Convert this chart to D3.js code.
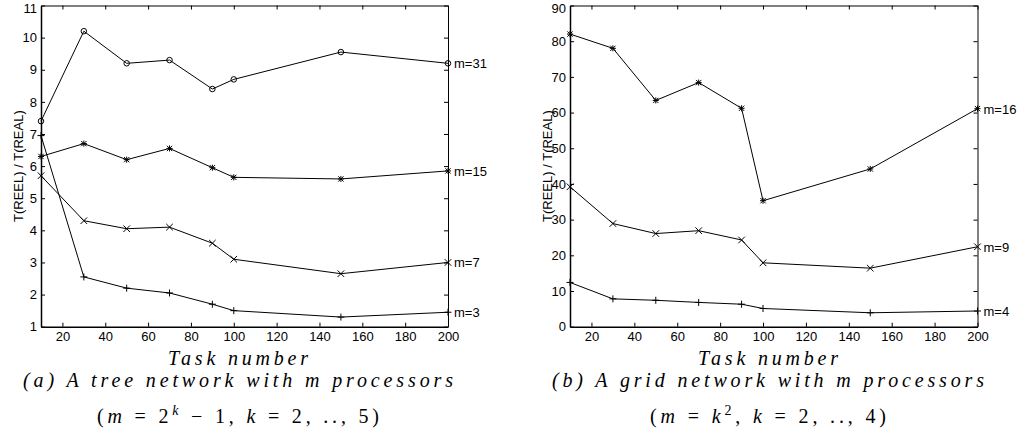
<!DOCTYPE html>
<meta charset="utf-8">
<style>
  body { margin: 0; background: #fff; }
  .tick text { font: 13px "Liberation Sans", Arial, sans-serif; fill: #000; }
  .cap { font-family: "Liberation Serif", "Times New Roman", serif; fill: #000; }
</style>
<svg width="1019" height="440"></svg>
<script src="https://cdn.jsdelivr.net/npm/d3@7"></script>
<script>
// data
var tasks = [10, 30, 50, 70, 90, 100, 150, 200];
var xTicks = [20, 40, 60, 80, 100, 120, 140, 160, 180, 200];

// (a) tree network
var treeM31 = [7.4, 10.2, 9.2, 9.3, 8.4, 8.7, 9.55, 9.2];
var treeM15 = [6.3, 6.7, 6.2, 6.55, 5.95, 5.65, 5.6, 5.85];
var treeM7  = [5.7, 4.3, 4.05, 4.1, 3.6, 3.1, 2.65, 3.0];
var treeM3  = [6.95, 2.55, 2.2, 2.05, 1.7, 1.5, 1.3, 1.45];
var treeYTicks = [1, 2, 3, 4, 5, 6, 7, 8, 9, 10, 11];

// (b) grid network
var gridM16 = [82, 78, 63.4, 68.4, 61.2, 35.3, 44.2, 61.1];
var gridM9  = [39.2, 28.9, 26.1, 26.9, 24.3, 17.9, 16.4, 22.4];
var gridM4  = [12.4, 7.8, 7.4, 6.8, 6.3, 5.1, 3.9, 4.4];
var gridYTicks = [0, 10, 20, 30, 40, 50, 60, 70, 80, 90];

var svg = d3.select("svg");

var panels = [
  { left: 41, right: 448, top: 5.5, bottom: 326.7, yDomain: [1, 11], yTicks: treeYTicks,
    series: [
      { name: "m=31", values: treeM31, mark: "circle" },
      { name: "m=15", values: treeM15, mark: "asterisk" },
      { name: "m=7",  values: treeM7,  mark: "times" },
      { name: "m=3",  values: treeM3,  mark: "plus" }
    ],
    cap1: "(a) A tree network with m processors",
    cap2: "tree"
  },
  { left: 570, right: 977.5, top: 5.5, bottom: 326.7, yDomain: [0, 90], yTicks: gridYTicks,
    series: [
      { name: "m=16", values: gridM16, mark: "asterisk" },
      { name: "m=9",  values: gridM9,  mark: "times" },
      { name: "m=4",  values: gridM4,  mark: "plus" }
    ],
    cap1: "(b) A grid network with m processors",
    cap2: "grid"
  }
];

var symPlus = d3.symbol().type(d3.symbolPlus).size(18)();
var symTimes = d3.symbol().type(d3.symbolTimes).size(30)();
var symCircle = d3.symbol().type(d3.symbolCircle).size(24)();
var symAstA = d3.symbol().type(d3.symbolPlus).size(14)();
var symAstB = d3.symbol().type(d3.symbolTimes).size(20)();

panels.forEach(function(p, pi) {
  var x = d3.scaleLinear().domain([10, 200]).range([p.left, p.right]);
  var y = d3.scaleLinear().domain(p.yDomain).range([p.bottom, p.top]);
  var g = svg.append("g");

  // box axes, ticks pointing inward
  g.append("g").attr("transform", "translate(0," + p.bottom + ")")
    .call(d3.axisBottom(x).tickValues(xTicks).tickSizeInner(-4).tickSizeOuter(0).tickPadding(5))
    .call(function(a) { a.select(".domain").attr("stroke-width", 1.5); });
  g.append("g").attr("transform", "translate(" + p.left + ",0)")
    .call(d3.axisLeft(y).tickValues(p.yTicks).tickSizeInner(-4).tickSizeOuter(0).tickPadding(4))
    .call(function(a) {
      a.select(".domain").attr("stroke-width", 1.5);
      // top label sits a little lower so it is not clipped
      a.selectAll(".tick text").filter(function(d) { return d === p.yDomain[1]; }).attr("dy", "0.5em");
    });
  g.append("g").attr("transform", "translate(0," + p.top + ")")
    .call(d3.axisTop(x).tickValues(xTicks).tickSizeInner(-4).tickSizeOuter(0).tickFormat(""));
  g.append("g").attr("transform", "translate(" + p.right + ",0)")
    .call(d3.axisRight(y).tickValues(p.yTicks).tickSizeInner(-4).tickSizeOuter(0).tickFormat(""));
  g.selectAll(".tick line, .domain").attr("stroke", "#000");

  // y label
  g.append("text")
    .attr("transform", "translate(" + (p.left - 18) + "," + ((p.top + p.bottom) / 2) + ") rotate(-90)")
    .attr("text-anchor", "middle")
    .style("font", "13px 'Liberation Sans', Arial, sans-serif")
    .text("T(REEL) / T(REAL)");

  var line = d3.line()
    .x(function(d, i) { return x(tasks[i]); })
    .y(function(d) { return y(d); });

  p.series.forEach(function(s) {
    g.append("path").datum(s.values)
      .attr("d", line).attr("fill", "none").attr("stroke", "#000").attr("stroke-width", 1);

    var m = g.selectAll(null).data(s.values).enter().append("g")
      .attr("transform", function(d, i) { return "translate(" + x(tasks[i]) + "," + y(d) + ")"; })
      .attr("fill", "none").attr("stroke", "#000").attr("stroke-width", 1);
    if (s.mark === "circle") m.append("path").attr("d", symCircle);
    if (s.mark === "plus") m.append("path").attr("d", symPlus);
    if (s.mark === "times") m.append("path").attr("d", symTimes);
    if (s.mark === "asterisk") { m.append("path").attr("d", symAstA); m.append("path").attr("d", symAstB); }

    g.append("text")
      .attr("x", x(200) + 6)
      .attr("y", y(s.values[s.values.length - 1]) + 5)
      .style("font", "13px 'Liberation Sans', Arial, sans-serif")
      .text(s.name);
  });

  // captions
  var cx = pi === 0 ? 238 : 768;
  g.append("text").attr("class", "cap").attr("x", cx).attr("y", 365)
    .attr("text-anchor", "middle").style("font-size", "20px").style("font-style", "italic")
    .attr("textLength", 140).attr("lengthAdjust", "spacing")
    .text("Task number");
  g.append("text").attr("class", "cap").attr("x", cx).attr("y", 387)
    .attr("text-anchor", "middle").style("font-size", "20px").style("font-style", "italic")
    .attr("textLength", pi === 0 ? 430 : 432).attr("lengthAdjust", "spacing")
    .text(p.cap1);

  var t2 = g.append("text").attr("class", "cap").attr("x", cx).attr("y", 423)
    .attr("text-anchor", "middle").style("font-size", "20px")
    .attr("textLength", pi === 0 ? 282 : 236).attr("lengthAdjust", "spacing");
  var parts = p.cap2 === "tree"
    ? [["(", 0], ["m", 1], [" = 2", 0], ["k", 2], [" \u2212 1, ", 0], ["k", 1], [" = 2, .., 5)", 0]]
    : [["(", 0], ["m", 1], [" = ", 0], ["k", 1], ["2", 3], [", ", 0], ["k", 1], [" = 2, .., 4)", 0]];
  parts.forEach(function(q) {
    var ts = t2.append("tspan").text(q[0]);
    if (q[1] === 1) ts.style("font-style", "italic");
    if (q[1] === 2 || q[1] === 3) {
      ts.attr("dy", -8).style("font-size", "14px");
      if (q[1] === 2) ts.style("font-style", "italic");
    }
    if (q[1] === 0 && (q[0].indexOf("\u2212") >= 0 || q[0] === ", ")) ts.attr("dy", 8);
  });
});
</script>
